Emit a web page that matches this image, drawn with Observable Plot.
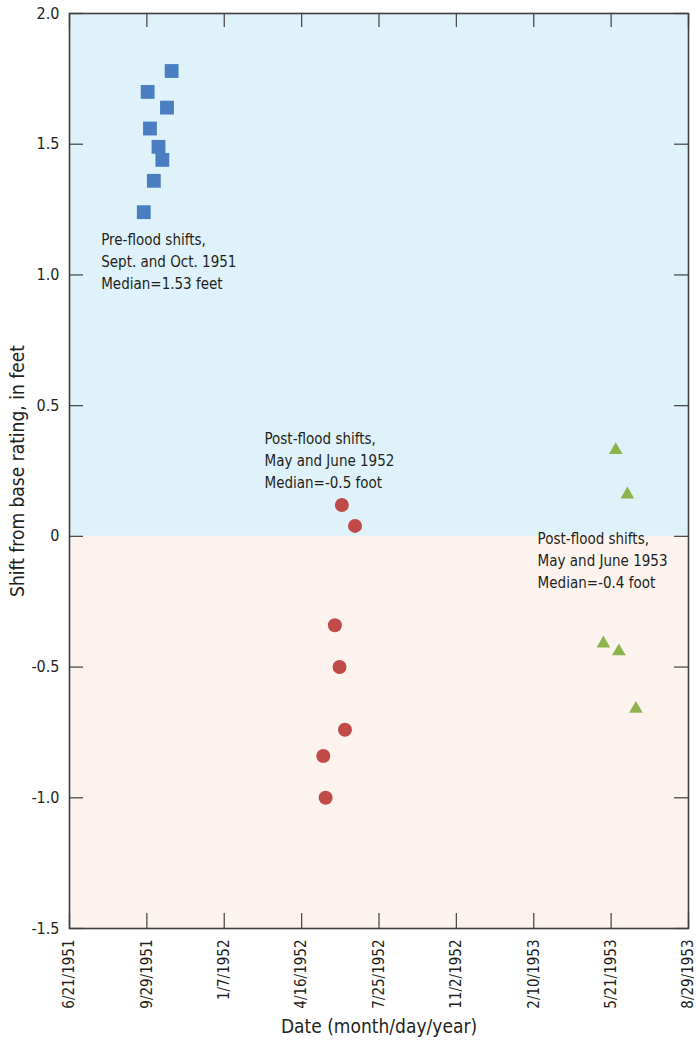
<!DOCTYPE html>
<html>
<head>
<meta charset="utf-8">
<script src="https://cdn.jsdelivr.net/npm/d3@7"></script>
<script src="https://cdn.jsdelivr.net/npm/@observablehq/plot@0.6"></script>
<style>
  html, body { margin: 0; padding: 0; background: #ffffff; }
  #chart svg { display: block; }
</style>
</head>
<body>
<div id="chart"></div>
<script>
// ---- data ----
const xDomain = ["1951-06-21", "1953-08-29"];
const yDomain = [-1.5, 2];
const xTickDates = ["1951-06-21", "1951-09-29", "1952-01-07", "1952-04-16", "1952-07-25",
                    "1952-11-02", "1953-02-10", "1953-05-21", "1953-08-29"];
const yTicks = [-1.5, -1.0, -0.5, 0, 0.5, 1.0, 1.5, 2.0];

// Pre-flood shifts, Sept. and Oct. 1951
const preDates  = ["1951-09-25", "1951-10-08", "1951-10-19", "1951-10-14", "1951-10-03", "1951-10-25", "1951-09-30", "1951-10-31"];
const preShifts = [1.24, 1.36, 1.44, 1.49, 1.56, 1.64, 1.70, 1.78];

// Post-flood shifts, May and June 1952
const post52Dates  = ["1952-05-14", "1952-05-17", "1952-05-29", "1952-06-04", "1952-06-07", "1952-06-11", "1952-06-24"];
const post52Shifts = [-0.84, -1.00, -0.34, -0.50, 0.12, -0.74, 0.04];

// Post-flood shifts, May and June 1953
const post53Dates  = ["1953-05-27", "1953-06-11", "1953-05-11", "1953-05-31", "1953-06-22"];
const post53Shifts = [0.33, 0.16, -0.41, -0.44, -0.66];

// shaded bands (positive / negative shift)
const bandLow  = [0, 2];
const bandHigh = [-1.5, 0];

// annotations
const annotText = [
  "Pre-flood shifts,\nSept. and Oct. 1951\nMedian=1.53 feet",
  "Post-flood shifts,\nMay and June 1952\nMedian=-0.5 foot",
  "Post-flood shifts,\nMay and June 1953\nMedian=-0.4 foot"
];
const annotDates  = ["1951-08-01", "1952-02-28", "1953-02-15"];
const annotValues = [1.175, 0.415, 0.03];

const xTitle = "Date (month/day/year)";
const yTitle = "Shift from base rating, in feet";

// ---- build ----
const parse = d3.utcParse("%Y-%m-%d");
const fmtDate = d => `${d.getUTCMonth() + 1}/${d.getUTCDate()}/${d.getUTCFullYear()}`;
const fmtY = d => d === 0 ? "0" : d.toFixed(1);
const pts = (dates, vals) => dates.map((d, i) => ({date: parse(d), value: vals[i]}));

const pre = pts(preDates, preShifts);
const post52 = pts(post52Dates, post52Shifts);
const post53 = pts(post53Dates, post53Shifts);
const annots = annotText.map((t, i) => ({text: t, date: parse(annotDates[i]), value: annotValues[i]}));
const xd = xDomain.map(parse);
const xTicks = xTickDates.map(parse);

const FONT = "'Liberation Sans Narrow', 'DejaVu Sans Condensed', 'Arial Narrow', sans-serif";
const W = 696, H = 1049, ML = 69, MR = 8, MT = 13, MB = 121;
const PW = W - ML - MR, PH = H - MT - MB;
const tickCol = "#4d4d4d";
const ink = "#231f20";

const chart = Plot.plot({
  width: W, height: H,
  marginLeft: ML, marginRight: MR, marginTop: MT, marginBottom: MB,
  style: {fontFamily: FONT, color: ink, background: "white", fontSize: "16px"},
  x: {type: "utc", domain: xd},
  y: {domain: yDomain},
  marks: [
    Plot.rect([bandLow], {x1: () => xd[0], x2: () => xd[1], y1: d => d[0], y2: d => d[1], fill: "#dff2fa"}),
    Plot.rect([bandHigh], {x1: () => xd[0], x2: () => xd[1], y1: d => d[0], y2: d => d[1], fill: "#fcf3ef"}),
    // inward ticks on all four sides
    Plot.tickY(yTicks, {y: d => d, insetRight: PW - 14, stroke: tickCol, strokeWidth: 1.3}),
    Plot.tickY(yTicks, {y: d => d, insetLeft: PW - 14, stroke: tickCol, strokeWidth: 1.3}),
    Plot.tickX(xTicks, {x: d => d, insetTop: PH - 15, stroke: tickCol, strokeWidth: 1.3}),
    Plot.tickX(xTicks, {x: d => d, insetBottom: PH - 14, stroke: tickCol, strokeWidth: 1.3}),
    Plot.frame({stroke: "#3f3f3f", strokeWidth: 1.6}),
    Plot.axisY({ticks: yTicks, tickFormat: fmtY, tickSize: 0, tickPadding: 10, fontSize: 16, label: null, fill: ink}),
    Plot.axisX({ticks: xTicks, tickFormat: fmtDate, tickRotate: -90, tickSize: 0, tickPadding: 11, fontSize: 15, label: null, fill: ink}),
    Plot.text([xTitle], {frameAnchor: "bottom", dy: 104, text: d => d, fontSize: 19, fill: ink}),
    Plot.text([yTitle], {frameAnchor: "left", dx: -52, rotate: -90, textAnchor: "middle", text: d => d, fontSize: 19, fill: ink}),
    Plot.text(annots, {x: "date", y: "value", text: "text", textAnchor: "start", lineAnchor: "top", fontSize: 15, lineHeight: 1.47, fill: ink}),
    Plot.dot(pre, {x: "date", y: "value", symbol: "square", r: 7.8, fill: "#4a7ec0"}),
    Plot.dot(post52, {x: "date", y: "value", symbol: "circle", r: 7, fill: "#c04a48"}),
    Plot.dot(post53, {x: "date", y: "value", symbol: "triangle", r: 5.1, fill: "#8db44c"})
  ]
});
document.getElementById("chart").appendChild(chart);
</script>
</body>
</html>
